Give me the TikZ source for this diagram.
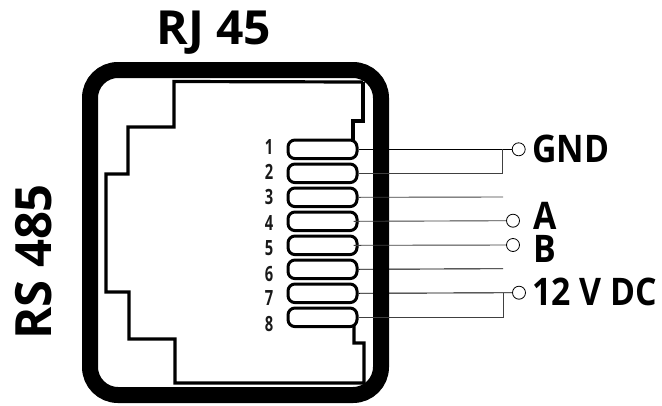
\documentclass[tikz,border=0pt]{standalone}
\usepackage{fontspec}
\setmainfont{Open Sans}[FakeStretch=0.89]
\newfontfamily\numfont{Open Sans}[FakeStretch=0.7]
\newfontfamily\titlefont{Open Sans}[FakeStretch=1.02]
\newfontfamily\sidefont{Open Sans}[FakeStretch=0.98]
\usetikzlibrary{positioning}

\begin{document}
\begin{tikzpicture}[x=1pt, y=-1pt, font=\bfseries, node distance = 2.4pt,
  pin/.style = {draw, line width=3pt, rounded corners=7pt, minimum width=69pt, minimum height=18.6pt, inner sep=0pt},
  num/.style = {font=\numfont\bfseries\fontsize{21}{21}\selectfont, text=black!90, inner sep=0pt},
  dot/.style = {draw, circle, line width=.8pt, minimum size=13pt, inner sep=0pt},
  lab/.style = {font=\bfseries\fontsize{38}{38}\selectfont, anchor=west, inner sep=0pt},
  wire/.style = {line width=.9pt, black!75}]
\useasboundingbox (0,0) rectangle (662,405);
% housing
\draw[line width=16pt, rounded corners=28pt] (90,70) rectangle (381,395);
\draw[line width=3.2pt, line join=miter] (363,82) -- (174,81.5) -- (174,127) -- (128,127) -- (128,174) -- (106,174) -- (106,292) -- (129,292) -- (129,339) -- (175,339) -- (175,383) -- (364,383) -- (364,343) -- (354,343) -- (354,325);
\draw[line width=3.2pt, line join=miter] (363,82) -- (363,121) -- (353,121) -- (353,140);
% pins
\node[pin] (pin1) at (322.5,149.3) {};
\node[pin] (pin2) [below=of pin1] {};
\node[pin] (pin3) [below=of pin2] {};
\node[pin] (pin4) [below=of pin3] {};
\node[pin] (pin5) [below=of pin4] {};
\node[pin] (pin6) [below=of pin5] {};
\node[pin] (pin7) [below=of pin6] {};
\node[pin] (pin8) [below=of pin7] {};
\foreach \i/\y in {1/147,2/172,3/197,4/223,5/248,6/274,7/298,8/324}
  \node[num] (n\i) at (269,\y) {\i};
% terminals
\node[dot] (gnd) at (518.7,149.3) {};
\node[dot] (a) at (513,220.7) {};
\node[dot] (b) at (513,245) {};
\node[dot] (dc) at (519,292.7) {};
\coordinate (join1) at (502,149.3);
\coordinate (join2) at (503,292.7);
\coordinate (end3) at (503,197);
\coordinate (end6) at (503,268.7);
% wires
\draw[wire, black] (pin1.east) -- (gnd);
\draw[wire] (pin2.east) -| (join1);
\draw[wire] (pin3.east) -- (end3);
\draw[wire, shorten <=-5pt] (pin4.east) -- (a);
\draw[wire, shorten <=-5pt] (pin5.east) -- (b);
\draw[wire, black] (pin6.east) -- (end6);
\draw[wire, black] (pin7.east) -- (dc);
\draw[wire] (pin8.east) -| (join2);
% labels
\node[lab] (gndl) at (532,148.5) {GND};
\node[lab] (al) at (533,216) {A};
\node[lab] (bl) at (533,249) {B};
\node[lab] (dcl) at (532,291.5) {12 V DC};
\node[font=\titlefont\bfseries\fontsize{47}{47}\selectfont, inner sep=0pt] (rj) at (214,33) {RJ 45};
\node[font=\sidefont\bfseries\fontsize{50}{50}\selectfont, inner sep=0pt, rotate=90] (rs) at (34,262) {RS 485};
\end{tikzpicture}
\end{document}
